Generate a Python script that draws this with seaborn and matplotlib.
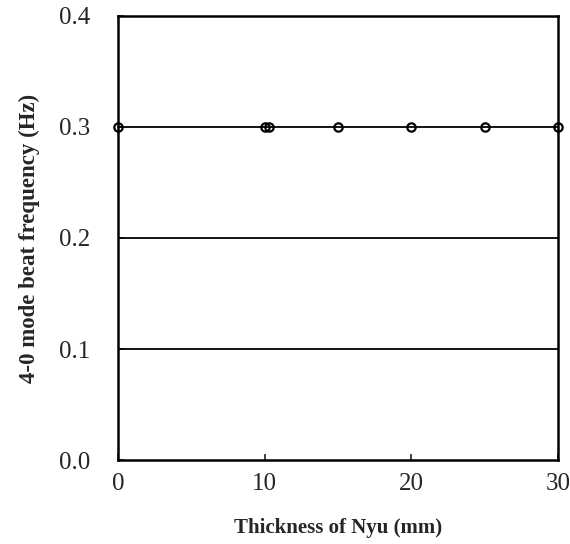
import matplotlib
matplotlib.use("Agg")
import matplotlib.pyplot as plt
import seaborn as sns
import pandas as pd

# data
thickness = [0, 10, 10.3, 15, 20, 25, 30]
beat_freq = [0.3, 0.3, 0.3, 0.3, 0.3, 0.3, 0.3]
x_ticks = [0, 10, 20, 30]
y_ticks = [0.0, 0.1, 0.2, 0.3, 0.4]
grid_levels = [0.1, 0.2]

sns.set_style("ticks")
plt.rcParams['font.family'] = ['Liberation Serif', 'DejaVu Serif']

df = pd.DataFrame({"thickness": thickness, "freq": beat_freq})

fig = plt.figure(figsize=(5.7, 5.44), dpi=100)
ax = fig.add_axes([0.207, 0.154, 0.772, 0.817])

for g in grid_levels:
    ax.axhline(g, color="black", lw=1.3, zorder=1)

sns.lineplot(data=df, x="thickness", y="freq", ax=ax, color="black", lw=1.3,
             marker="o", markersize=6, markerfacecolor="none",
             markeredgecolor="black", markeredgewidth=1.6, zorder=3, clip_on=False)

ax.set_xlim(0, 30)
ax.set_ylim(0, 0.4)
ax.set_xticks(x_ticks)
ax.set_yticks(y_ticks)
ax.set_yticklabels([f"{v:.1f}" for v in y_ticks])
ax.tick_params(axis="both", direction="in", length=4, width=1.2, labelsize=18)
ax.tick_params(axis="y", pad=20)
ax.tick_params(axis="x", pad=9)

for s in ax.spines.values():
    s.set_linewidth(1.8)
    s.set_color("black")

ax.set_xlabel("Thickness of Nyu (mm)", fontsize=15, fontweight="bold", labelpad=17)
ax.set_ylabel("4-0 mode beat frequency (Hz)", fontsize=16.5, fontweight="bold", labelpad=14)

fig.savefig("out.png", dpi=100)
